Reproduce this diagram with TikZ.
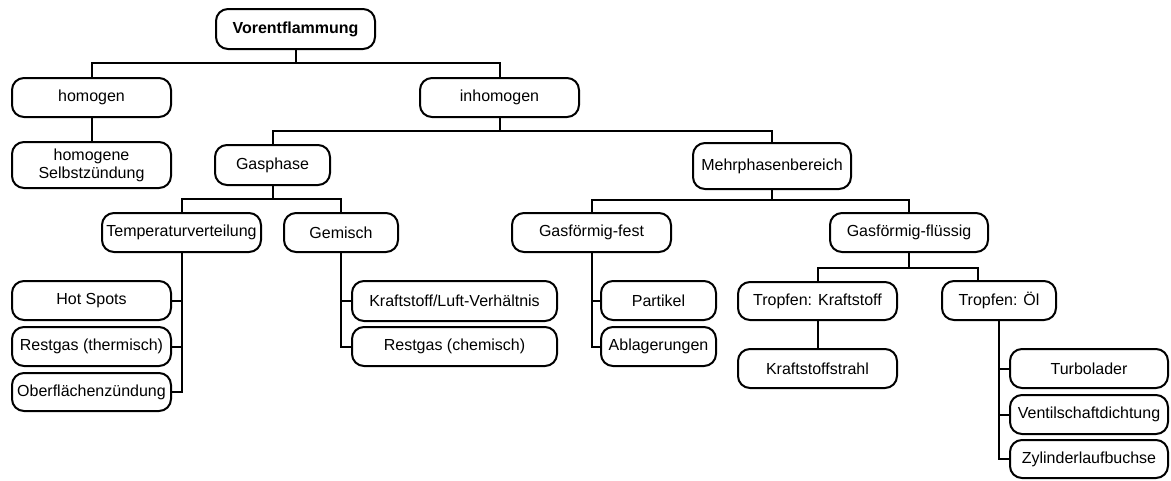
\documentclass[tikz,border=0pt]{standalone}
\usepackage{fontspec}
\setmainfont{Liberation Sans}
\begin{document}
\begin{tikzpicture}[x=1pt,y=-1pt,
  box/.style={draw,line width=2pt,rounded corners=12pt,inner sep=0pt,
    align=center,font=\fontsize{16}{18}\selectfont,fill=white},
  wide/.style={box,minimum width=159pt,minimum height=39pt},
  narrow/.style={box,minimum width=115pt,minimum height=39pt},
  xwide/.style={box,minimum width=205pt,minimum height=40pt},
  link/.style={line width=2pt}]
\useasboundingbox (0,0) rectangle (1171,480);
% nodes
\node[wide,minimum height=40pt,font=\fontsize{16}{18}\selectfont\bfseries] (vor) at (295.5,29) {Vorentflammung};
\node[wide] (hom) at (91.5,97.5) {homogen};
\node[wide] (inh) at (499.5,97.5) {inhomogen};
\node[wide,minimum height=46pt] (hse) at (91.5,165) {homogene\\Selbstzündung};
\node[narrow,minimum height=40pt] (gas) at (272.5,165) {Gasphase};
\node[wide,minimum width=158pt,minimum height=46pt] (mpb) at (772,166) {Mehrphasenbereich};
\node[wide] (temp) at (181.5,232.5) {Temperaturverteilung};
\node[narrow,minimum width=114pt] (gem) at (341,232.5) {Gemisch};
\node[wide] (gff) at (591.5,232.5) {Gasförmig-fest};
\node[wide,minimum width=158pt] (gfl) at (909,232.5) {Gasförmig-flüssig};
\node[wide] (hot) at (91.5,300.5) {Hot Spots};
\node[wide] (rth) at (91.5,346.5) {Restgas (thermisch)};
\node[wide,minimum height=38pt] (obf) at (91.5,392) {Oberflächenzündung};
\node[xwide] (kl) at (454.5,301) {Kraftstoff/Luft-Verhältnis};
\node[xwide,minimum height=39pt] (rch) at (454.5,346.5) {Restgas (chemisch)};
\node[narrow] (par) at (658.5,300.5) {Partikel};
\node[narrow] (abl) at (658.5,346.5) {Ablagerungen};
\node[wide,minimum height=38pt] (tk) at (817.5,301) {Tropfen: Kraftstoff};
\node[wide] (ks) at (817.5,368.5) {Kraftstoffstrahl};
\node[narrow,minimum width=114pt] (oel) at (999,300.5) {Tropfen: Öl};
\node[wide,minimum width=158pt] (turb) at (1089,368.5) {Turbolader};
\node[wide,minimum width=158pt] (ven) at (1089,414.5) {Ventilschaftdichtung};
\node[wide,minimum width=158pt,minimum height=38pt] (zyl) at (1089,459) {Zylinderlaufbuchse};
% connectors
\coordinate (b1) at (vor.south |- 0,63);
\draw[link] (vor.south) -- (b1) -| (hom.north);
\draw[link] (b1) -| (inh.north);
\draw[link] (hom.south) -- (hse.north);
\coordinate (b2) at (inh.south |- 0,131);
\draw[link] (inh.south) -- (b2) -| (gas.north);
\draw[link] (b2) -| (mpb.north);
\coordinate (b3) at (gas.south |- 0,199);
\draw[link] (gas.south) -- (b3) -| (temp.north);
\draw[link] (b3) -| (gem.north);
\coordinate (b4) at (mpb.south |- 0,200);
\draw[link] (mpb.south) -- (b4) -| (gff.north);
\draw[link] (b4) -| (gfl.north);
\draw[link] (temp.south) |- (hot.east);
\draw[link] (temp.south) |- (rth.east);
\draw[link] (temp.south) |- (obf.east);
\draw[link] (gem.south) |- (kl.west);
\draw[link] (gem.south) |- (rch.west);
\draw[link] (gff.south) |- (par.west);
\draw[link] (gff.south) |- (abl.west);
\coordinate (b5) at (gfl.south |- 0,268);
\coordinate (oeltop) at ([xshift=-21pt]oel.north);
\draw[link] (gfl.south) -- (b5) -| (tk.north);
\draw[link] (b5) -| (oeltop);
\draw[link] (tk.south) -- (ks.north);
\draw[link] (oel.south) |- (turb.west);
\draw[link] (oel.south) |- (ven.west);
\draw[link] (oel.south) |- (zyl.west);
\end{tikzpicture}
\end{document}
